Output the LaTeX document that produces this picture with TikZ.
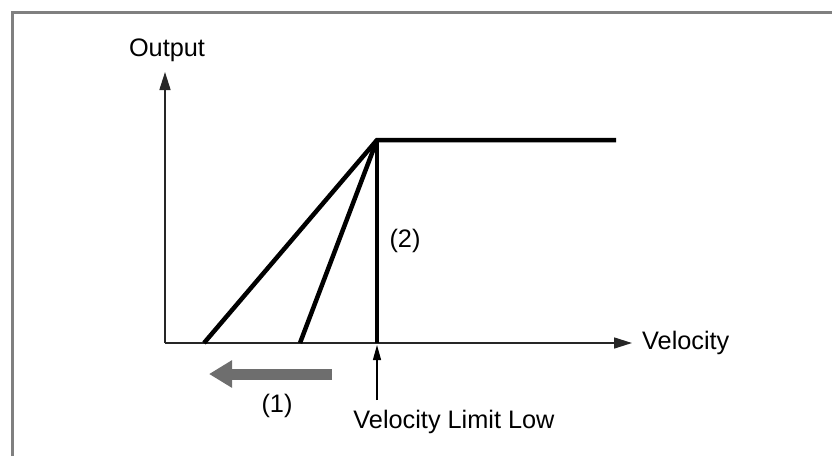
\documentclass[tikz,border=0pt]{standalone}
\usepackage{fontspec}
\setmainfont{Liberation Sans}
\usetikzlibrary{arrows.meta}
\begin{document}
\begin{tikzpicture}[x=1pt,y=-1pt,
  lbl/.style={inner sep=0pt,font=\fontsize{25.3}{29}\selectfont},
  axis/.style={line width=1.6pt,draw=black!85,-{Triangle[length=18pt,width=11pt]}},
  curve/.style={line width=4.5pt,line cap=butt},
  frameline/.style={line width=2.5pt,draw=black!50}]
\useasboundingbox (0,0) rectangle (832,456);
\draw[frameline] (12.5,456) -- (12.5,12.5) -- (832,12.5);
\coordinate (O) at (165,343);
\coordinate (ytop) at (165,72);
\coordinate (xend) at (632,343);
\coordinate (P) at (377,140);
\coordinate (Q) at (616,140);
\coordinate (A) at (204,343);
\coordinate (B) at (300,343);
\coordinate (C) at (377,343);
\coordinate (D) at (377,400);
\coordinate (E) at (377,345);
\coordinate (g1) at (332,374);
\coordinate (g2) at (209,374);
\draw[axis] (O) -- (ytop);
\draw[axis] (O) -- (xend);
\draw[curve] (A) -- (P) -- (Q);
\draw[curve] (B) -- (P);
\draw[curve] (C) -- (P);
\draw[line width=1.2pt,-{Triangle[length=15pt,width=8pt]}] (D) -- (E);
\draw[line width=11pt,draw=black!57,-{Triangle[length=23pt,width=26pt]},fill=black!57] (g1) -- (g2);
\node[lbl] (out) at (167,50) {Output};
\node[lbl,anchor=west] (vel) at (642,343) {Velocity};
\node[lbl] (two) at (405,241) {(2)};
\node[lbl] (one) at (277,406) {(1)};
\node[lbl] (vll) at (454,422) {Velocity Limit Low};
\end{tikzpicture}
\end{document}
